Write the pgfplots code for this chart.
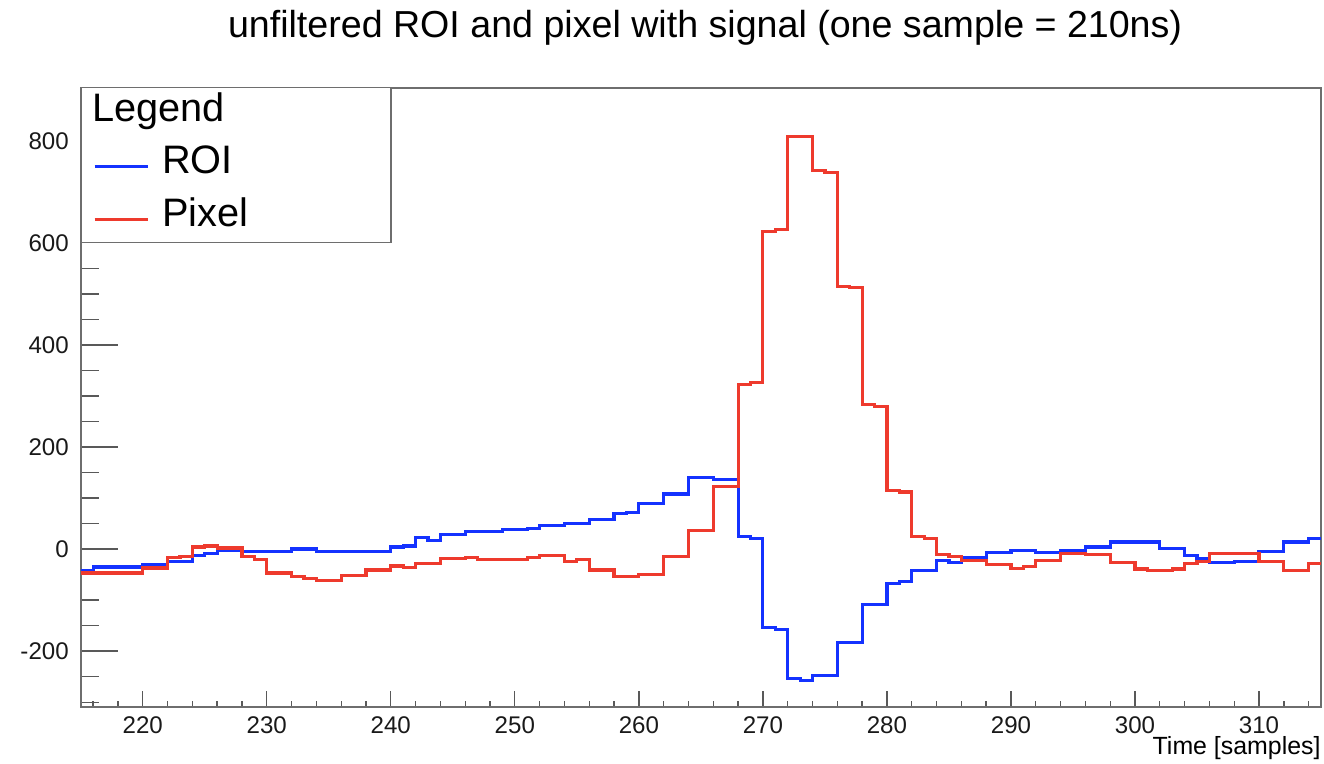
\documentclass[border=0pt]{standalone}
\usepackage{fontspec}
\setmainfont{Liberation Sans}
\usepackage{pgfplots}
\usepackage{pgfplotstable}
\pgfplotsset{compat=1.18}
\definecolor{roiblue}{RGB}{20,50,255}
\definecolor{pixred}{RGB}{238,58,45}
\definecolor{framegray}{RGB}{110,110,110}

\pgfplotstableread{
x y
215 -43
216 -35
217 -35
218 -35
219 -35
220 -30
221 -30
222 -24
223 -24
224 -13
225 -8
226 -2
227 -2
228 -4
229 -4
230 -4
231 -4
232 0
233 0
234 -4
235 -4
236 -4
237 -4
238 -4
239 -4
240 4
241 6
242 22
243 17
244 28
245 28
246 35
247 35
248 35
249 38
250 38
251 41
252 46
253 46
254 50
255 50
256 58
257 58
258 70
259 72
260 90
261 90
262 108
263 108
264 141
265 141
266 137
267 137
268 25
269 20
270 -153
271 -158
272 -254
273 -258
274 -247
275 -247
276 -183
277 -183
278 -108
279 -108
280 -68
281 -64
282 -42
283 -42
284 -22
285 -27
286 -16
287 -16
288 -6
289 -6
290 -2
291 -3
292 -7
293 -7
294 -3
295 -3
296 4
297 4
298 14
299 14
300 14
301 14
302 1
303 1
304 -12
305 -19
306 -27
307 -27
308 -24
309 -24
310 -4
311 -4
312 14
313 14
314 21
315 21
}\roidata

\pgfplotstableread{
x y
215 -47
216 -47
217 -47
218 -47
219 -47
220 -37
221 -37
222 -17
223 -14
224 4
225 6
226 2
227 2
228 -15
229 -21
230 -47
231 -47
232 -53
233 -58
234 -62
235 -62
236 -52
237 -52
238 -41
239 -41
240 -33
241 -36
242 -29
243 -29
244 -19
245 -19
246 -16
247 -21
248 -21
249 -21
250 -21
251 -17
252 -13
253 -13
254 -24
255 -21
256 -41
257 -41
258 -53
259 -53
260 -50
261 -50
262 -14
263 -14
264 37
265 37
266 123
267 123
268 322
269 327
270 622
271 626
272 808
273 808
274 742
275 737
276 515
277 512
278 283
279 280
280 115
281 112
282 24
283 20
284 -11
285 -14
286 -23
287 -23
288 -30
289 -30
290 -38
291 -34
292 -23
293 -23
294 -8
295 -8
296 -11
297 -11
298 -26
299 -26
300 -39
301 -42
302 -42
303 -39
304 -28
305 -24
306 -8
307 -8
308 -9
309 -9
310 -24
311 -24
312 -42
313 -42
314 -28
315 -28
}\pixdata

\begin{document}
\begin{tikzpicture}
\path[use as bounding box] (-30.48pt,-21.41pt) rectangle (469.52pt,267.11pt);
\begin{axis}[
  at={(0pt,0pt)}, anchor=south west,
  scale only axis, width=468.4pt, height=234pt,
  xmin=215, xmax=315, ymin=-310, ymax=904,
  axis line style={framegray, line width=0.7pt},
  tick align=inside,
  xtick pos=bottom, ytick pos=left,
  xtick={220,230,...,310},
  xticklabels={220,230,240,250,260,270,280,290,300,310},
  minor xtick={216,218,...,314},
  ytick={-200,0,200,400,600,800},
  yticklabels={-200,0,200,400,600,800},
  minor ytick={-300,-250,...,900},
  xtick style={/pgfplots/major tick length=6pt, /pgfplots/minor tick length=2.3pt, black!65, line width=0.5pt},
  ytick style={/pgfplots/major tick length=14.2pt, /pgfplots/minor tick length=6.8pt, black!65, line width=0.5pt},
  ticklabel style={font=\fontsize{9.1}{11}\selectfont, text=black!90},
  yticklabel shift=1pt,
  title={unfiltered ROI and pixel with signal (one sample = 210ns)},
  title style={at={(0.5034,1)}, anchor=base, yshift=13.1pt, inner sep=0pt, font=\fontsize{14.2}{17}\selectfont},
  xlabel={Time [samples]},
  xlabel style={at={(1,0)}, anchor=base east, yshift=-18pt, inner sep=0pt, font=\fontsize{9.4}{11}\selectfont},
  legend cell align=left,
  legend style={at={(0.0099,0.9693)}, anchor=north west, draw=none, fill=none,
    inner sep=0pt, outer sep=0pt, row sep=14.4pt, column sep=4.9pt,
    font=\fontsize{15}{18}\selectfont,
    nodes={inner sep=0pt, outer sep=0pt, text height=5.5pt, text depth=0pt}},
  legend image code/.code={\draw[#1, line width=1.2pt] (0pt,0pt) -- (20pt,0pt);},
]
\addlegendimage{empty legend}
\addlegendentry{\hspace*{-26.4pt}Legend}
\addplot[const plot, roiblue, line width=1.2pt] table {\roidata};
\addlegendentry{ROI}
\addplot[const plot, pixred, line width=1.2pt] table {\pixdata};
\addlegendentry{Pixel}
\filldraw[fill=white, draw=framegray, line width=0.6pt] (rel axis cs:0,0.75) rectangle (rel axis cs:0.25,1);
\end{axis}
\end{tikzpicture}
\end{document}
